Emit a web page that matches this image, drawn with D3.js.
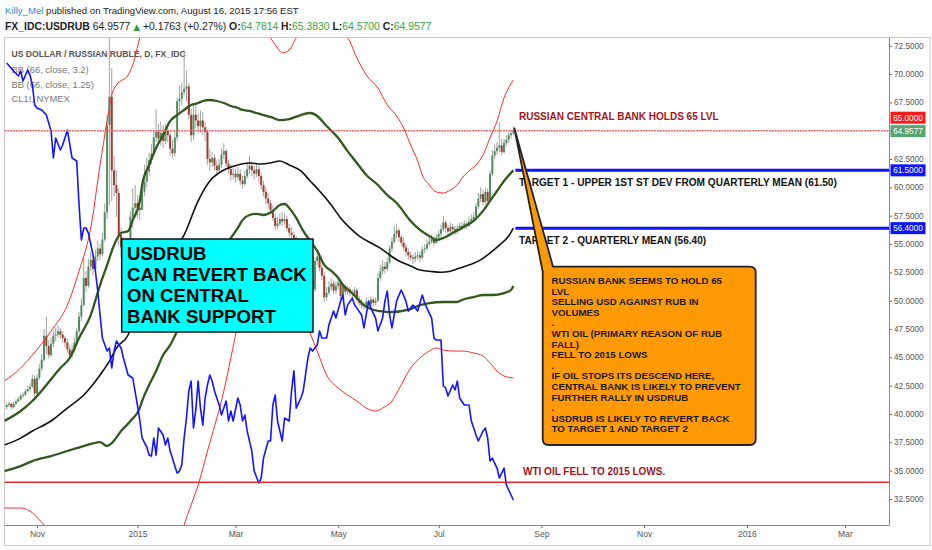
<!DOCTYPE html>
<html><head><meta charset="utf-8">
<script src="https://cdn.jsdelivr.net/npm/d3@7"></script>
<style>
html,body{margin:0;padding:0;background:#fff;}
svg{display:block;}
</style></head><body>
<svg id="chart" width="932" height="550"></svg>
<script>
// ---------------- DATA ----------------
const seriesStart = "2014-10-13";   // bar 0 (weekdays only)
const firstBar = 2;                 // first candle: Oct 15 2014
const firstOpen = 40.6;
const closes = [
40.8,40.9,40.6,40.9,41.1,41.3,41.6,41.7,42.0,42.2,
42.4,43.1,41.8,43.2,44.0,44.8,46.9,46.0,45.2,46.2,
46.9,47.0,47.3,47.0,46.7,46.3,45.7,45.2,45.6,46.3,
47.3,48.6,49.6,52.0,51.3,53.0,53.6,52.8,53.9,54.6,
54.1,55.4,57.8,65.5,68.0,61.5,60.2,59.5,55.8,54.7,
54.3,54.5,54.1,57.4,58.2,58.6,58.2,58.0,59.6,60.5,
61.4,62.4,63.0,64.4,64.9,64.3,64.8,64.1,65.0,64.6,
63.4,63.0,64.4,67.6,67.8,68.4,68.7,68.9,66.4,64.6,
66.4,65.9,65.4,65.9,65.3,64.9,62.5,62.2,62.6,61.9,
61.5,62.0,62.9,63.2,62.1,61.6,61.1,61.2,60.9,61.2,
60.6,60.3,61.0,61.6,61.9,61.5,61.2,61.6,61.0,60.2,
59.6,59.0,58.6,58.0,57.3,56.6,56.8,57.2,57.0,57.2,
56.4,56.0,55.8,55.5,54.8,53.8,53.2,52.5,52.3,52.8,
51.8,51.0,53.5,53.9,52.9,52.2,50.3,50.7,51.2,51.5,
50.9,51.3,51.6,50.4,51.3,50.8,51.0,50.7,50.6,50.9,
50.1,49.8,49.6,49.5,49.9,49.7,50.1,49.8,50.0,52.0,
52.6,53.0,52.8,53.4,54.6,55.2,55.9,56.2,55.6,55.1,
54.7,54.3,54.0,53.8,53.7,53.9,54.0,53.8,54.5,54.6,
55.0,55.2,55.4,55.1,55.6,55.9,56.3,56.9,56.4,56.1,
56.5,56.3,56.1,56.4,56.6,56.5,56.8,56.6,57.0,57.2,
57.4,58.3,59.0,59.4,58.7,59.6,58.8,61.2,62.8,63.2,
63.5,63.7,63.1,63.9,64.2,64.6,64.78,64.9577];
const highs = [
41.0,41.1,41.0,41.1,41.3,41.5,41.8,41.9,42.2,42.5,
42.7,43.5,43.4,43.5,44.4,45.3,47.5,48.6,46.5,46.8,
47.4,47.6,47.8,47.6,47.3,46.9,46.6,46.0,46.1,46.7,
47.6,49.0,50.2,53.8,52.6,53.7,54.3,54.0,54.5,55.3,
55.0,56.0,58.6,66.4,79.0,70.5,62.8,61.5,59.9,56.4,
55.6,55.4,54.9,57.9,59.9,60.2,59.3,59.0,60.4,62.0,
62.6,63.0,63.8,65.0,66.9,65.6,65.8,65.5,65.6,65.7,
65.0,64.2,65.0,67.9,69.0,69.2,72.1,70.3,69.2,66.9,
67.3,67.4,66.5,66.8,66.6,65.8,65.1,63.4,63.1,62.9,
62.4,62.5,63.4,63.9,63.4,62.4,62.0,61.7,61.6,61.8,
61.6,61.0,61.5,62.2,62.8,62.3,61.9,62.1,61.9,61.3,
60.6,60.0,59.5,58.9,58.4,57.7,57.4,57.7,57.8,57.7,
57.5,56.8,56.5,56.1,55.7,55.0,54.2,53.6,53.0,53.2,
53.1,52.1,53.8,54.4,54.0,53.2,52.5,51.2,51.7,52.0,
51.8,51.7,52.1,51.9,51.6,51.5,51.3,51.2,51.0,51.2,
51.1,50.4,50.1,49.9,50.3,50.1,50.4,50.3,50.3,52.4,
53.2,53.6,53.4,53.8,54.9,55.6,56.6,56.8,56.4,55.8,
55.5,55.0,54.6,54.3,54.1,54.3,54.4,54.3,54.8,55.0,
55.4,55.6,55.8,55.7,55.9,56.2,56.7,57.5,57.1,56.7,
56.9,56.8,56.6,56.7,56.9,56.9,57.1,57.0,57.4,57.6,
57.8,58.6,59.5,60.0,59.8,60.0,59.9,61.5,63.3,63.8,
64.0,65.7,64.3,64.3,64.6,64.9,65.1,65.383];
const lows = [
40.4,40.6,40.4,40.5,40.8,41.0,41.2,41.4,41.6,41.9,
42.0,42.3,41.4,41.7,43.0,43.8,44.6,45.3,44.9,45.0,
45.9,46.4,46.7,46.6,46.3,45.9,45.4,44.8,44.9,45.4,
46.0,47.1,48.2,49.5,50.8,51.1,52.6,52.2,52.6,53.5,
53.6,53.9,55.2,57.2,58.4,58.8,59.2,57.4,54.9,53.8,
53.4,53.6,53.0,53.9,56.4,57.5,57.3,57.1,58.6,59.2,
60.0,61.0,62.0,62.7,64.0,63.8,63.7,63.5,63.8,64.0,
62.8,62.6,62.7,64.1,66.5,67.2,68.1,67.6,66.0,64.0,
64.2,65.2,64.8,64.8,64.6,64.1,62.0,61.5,61.8,61.5,
61.0,61.2,61.7,62.5,61.8,61.2,60.6,60.7,60.4,60.6,
60.2,59.9,60.1,60.8,61.2,61.0,60.7,60.9,60.4,59.8,
59.2,58.5,58.1,57.6,57.0,56.2,56.3,56.6,56.6,56.7,
56.1,55.6,55.3,54.9,54.3,53.5,52.7,52.0,51.9,52.0,
51.4,50.6,50.8,53.1,52.6,51.8,49.9,50.0,50.5,50.9,
50.6,50.6,51.0,50.1,50.2,50.5,50.5,50.4,50.2,50.4,
49.9,49.5,49.3,49.2,49.3,49.4,49.5,49.5,49.6,49.9,
51.7,52.3,52.4,52.6,53.2,54.3,55.0,55.5,55.2,54.8,
54.4,53.9,53.6,53.5,53.2,53.4,53.6,53.4,53.6,54.2,
54.4,54.8,55.0,54.8,55.0,55.3,55.6,56.1,56.0,55.8,
55.9,56.0,55.8,55.9,56.2,56.2,56.3,56.3,56.5,56.8,
57.0,57.2,58.1,58.7,58.4,58.5,58.5,58.7,61.0,62.5,
62.9,63.1,62.8,63.0,63.6,63.9,64.3,64.57];

// Bollinger bands: [bar, value]
const bbBasis = [[1,37.26],[8,37.87],[13,38.49],[21,39.38],[28,40.52],[35,41.67],[42,43.44],[46,44.67],[49,45.82],[54,46.97],[59,50.06],[68,53.15],[78,55.8],[84,58.8],[89,60.56],[95,61.53],[101,61.98],[106,62.15],[111,62.06],[115,62.15],[119,62.32],[123,61.98],[128,61.45],[132,60.56],[136,59.68],[141,58.45],[145,57.3],[149,56.42],[153,55.7],[158,55.09],[162,54.64],[166,54.03],[170,53.5],[175,53.06],[179,52.7],[183,52.6],[188,52.5],[192,52.6],[196,52.88],[200,53.15],[205,53.6],[209,54.2],[213,54.9],[217,55.7],[219,56.4]];
const bbUpper125 = [[1,39.38],[8,40.26],[13,41.14],[19,42.55],[25,44.05],[29,44.94],[33,46.7],[38,48.73],[42,51.38],[45,53.14],[48,54.91],[51,55.96],[54,56.14],[56,57.11],[59,58.79],[60,60.2],[63,61.97],[66,63.47],[69,64.62],[72,65.85],[75,66.38],[78,66.83],[81,67.27],[84,67.44],[86,67.62],[89,67.71],[92,67.62],[95,67.44],[98,67.18],[101,67.0],[103,66.83],[106,66.74],[109,66.56],[112,66.38],[115,66.21],[119,65.94],[123,66.03],[128,66.38],[132,66.56],[135,66.3],[139,65.41],[144,64.35],[148,63.2],[152,62.15],[156,61.09],[161,60.21],[165,59.32],[169,58.62],[175,57.03],[179,56.24],[183,55.7],[186,55.35],[189,55.53],[193,55.97],[197,56.42],[202,57.03],[206,57.92],[209,58.8],[212,59.68],[215,60.56],[219,61.5]];
const bbLower125 = [[1,34.96],[8,35.4],[13,35.84],[21,36.28],[28,36.73],[35,37.17],[42,37.52],[45,37.17],[47,37.43],[51,38.49],[55,39.38],[59,40.52],[60,41.14],[63,42.55],[66,43.79],[69,45.2],[72,46.08],[75,47.32],[80,49.62],[86,51.65],[92,53.77],[98,55.53],[101,56.42],[103,57.11],[106,57.56],[109,57.65],[112,57.56],[116,57.91],[119,58.44],[121,58.53],[123,58.18],[126,57.3],[129,56.15],[132,55.27],[135,54.39],[138,53.15],[141,52.62],[144,52.0],[146,51.38],[149,50.85],[152,50.23],[155,49.61],[158,49.26],[162,49.08],[166,48.99],[175,49.26],[179,49.61],[183,49.79],[189,49.88],[195,49.88],[197,50.06],[202,50.32],[206,50.5],[210,50.5],[215,50.67],[218,50.94],[219,51.3]];
const bbUpper32 = [[1,42.9],[8,44.06],[13,45.2],[21,47.32],[28,49.61],[33,52.61],[38,56.42],[42,61.97],[45,65.85],[47,68.15],[49,69.03],[54,69.91],[56,70.8],[59,73.18],[64,76.0],[72,79.0],[81,80.0],[93,78.0],[106,75.0],[115,73.18],[118,72.3],[120,71.86],[123,72.12],[126,73.18],[136,74.5],[148,73.18],[152,71.41],[156,69.91],[161,68.77],[165,67.27],[169,66.3],[172,65.24],[175,63.74],[178,62.32],[180,61.09],[183,60.21],[186,59.59],[189,59.5],[192,59.76],[195,60.21],[197,60.82],[200,61.44],[203,61.97],[206,62.85],[209,64.35],[212,65.85],[215,67.88],[219,69.47]];
const bbLower32 = [[1,31.7],[8,31.7],[11,31.53],[13,31.27],[16,30.65],[18,30.2],[25,28.0],[40,24.0],[55,21.0],[65,21.5],[72,25.0],[78,30.2],[81,31.97],[84,33.73],[88,36.73],[92,39.64],[95,42.03],[98,44.94],[101,47.85],[106,50.41],[113,52.0],[121,52.53],[127,50.5],[132,47.14],[135,45.55],[139,43.44],[144,42.29],[148,41.67],[152,41.14],[156,40.52],[160,40.26],[163,40.52],[167,41.14],[170,42.2],[175,44.05],[179,44.94],[183,45.55],[186,45.82],[189,45.64],[193,45.55],[197,45.55],[202,45.38],[206,45.11],[209,44.5],[212,43.79],[215,43.35],[219,43.18]];

// WTI crude (CL1!) overlay, own scale: [bar, price]
const oil = [[2,81.87],[5,81.15],[7,80.7],[8,81.15],[9,80.25],[11,81.24],[12,80.79],[13,79.89],[14,78.09],[15,77.82],[17,77.64],[19,77.18],[21,75.74],[22,73.31],[23,75.11],[25,74.03],[26,74.48],[28,75.83],[30,73.31],[32,73.04],[33,69.08],[34,65.92],[35,67.0],[36,67.0],[37,66.55],[39,64.57],[40,63.13],[41,61.33],[42,59.17],[43,57.09],[45,55.92],[46,56.19],[47,54.39],[48,55.92],[49,56.82],[51,56.19],[52,55.29],[54,53.76],[56,53.49],[58,51.06],[59,49.71],[60,48.09],[62,47.27],[63,46.55],[64,46.46],[65,48.09],[66,46.55],[67,48.99],[69,48.36],[70,47.46],[71,48.09],[72,46.91],[73,46.28],[74,45.56],[75,44.93],[76,45.11],[77,45.65],[78,48.09],[79,49.89],[80,52.32],[81,53.22],[82,48.99],[83,50.61],[84,53.22],[85,50.78],[86,49.25],[87,51.69],[88,52.86],[89,53.76],[90,53.22],[91,52.32],[93,51.06],[94,50.16],[96,51.42],[97,49.62],[98,50.52],[99,49.62],[101,51.69],[102,51.06],[103,49.62],[104,50.16],[105,48.72],[107,46.91],[108,45.11],[110,44.03],[111,44.48],[112,46.28],[114,47.82],[115,47.82],[116,51.06],[117,51.96],[118,49.62],[120,47.82],[121,49.89],[123,49.62],[124,52.32],[125,54.13],[126,50.78],[128,51.69],[129,52.32],[131,55.29],[132,56.19],[133,55.92],[135,56.46],[136,57.72],[137,57.09],[139,57.09],[140,58.26],[142,59.52],[143,58.89],[145,60.42],[146,60.96],[147,59.17],[148,60.06],[150,60.69],[151,60.06],[152,59.79],[154,59.17],[155,58.0],[157,60.42],[158,59.79],[160,58.89],[161,57.72],[163,58.89],[164,60.42],[165,61.33],[166,59.17],[167,58.0],[169,60.42],[170,60.96],[171,61.42],[173,60.42],[174,59.52],[176,60.06],[177,59.79],[178,59.52],[180,60.96],[181,60.25],[182,59.79],[184,58.89],[185,57.09],[186,56.91],[188,56.91],[189,52.77],[190,52.59],[191,51.87],[193,52.86],[194,52.41],[195,53.22],[196,51.69],[198,51.06],[200,51.06],[201,49.62],[203,48.36],[204,47.82],[206,48.72],[207,48.99],[208,48.09],[209,46.01],[210,46.28],[212,45.38],[213,44.48],[215,45.38],[216,43.85],[217,43.4],[218,42.95],[219,42.5]];

const yTicks = [32.5,35,37.5,40,42.5,45,47.5,50,52.5,55,57.5,60,62.5,65,67.5,70,72.5];
const level65 = 65.0;
const target1 = 61.5;
const target2 = 56.4;
const oilLow2015 = 44.1;
const lastPrice = 64.9577;
const legendLines = ["US DOLLAR / RUSSIAN RUBLE, D, FX_IDC","BB (66, close, 3.2)","BB (66, close, 1.25)","CL1!, NYMEX"];
const boxLines = ["USDRUB","CAN REVERT BACK","ON CENTRAL","BANK SUPPORT"];
const noteLines = ["RUSSIAN BANK SEEMS TO HOLD 65","LVL","SELLING USD AGAINST RUB IN","VOLUMES",".","WTI OIL (PRIMARY REASON OF RUB","FALL)","FELL TO 2015 LOWS",".","IF OIL STOPS ITS DESCEND HERE,","CENTRAL BANK IS LIKELY TO PREVENT","FURTHER RALLY IN USDRUB",".","USDRUB IS LIKELY TO REVERT BACK","TO TARGET 1 AND TARGET 2"];

// ---------------- BUILD ----------------
const svg = d3.select("#chart");
const L = 4.5, R = 889, T = 38, B = 525;
const x = d3.scaleLinear().domain([0, 380]).range([2, 889.3]);
const y = d3.scaleLinear().domain([30.2, 73.18]).range([B, T]);
const yOil = d3.scaleLinear().domain([40.25, 84.12]).range([B, T]);

// trading calendar (weekdays) for axis labels
const parse = d3.timeParse("%Y-%m-%d");
const days = d3.timeDay.range(parse(seriesStart), parse("2016-05-01")).filter(d => d.getDay() !== 0 && d.getDay() !== 6);
const monthTicks = [];
days.forEach((d, i) => {
  if (i > 0 && d.getMonth() !== days[i-1].getMonth() && d.getMonth() % 2 === 0) monthTicks.push({i, d});
});

const candles = closes.map((c, k) => ({
  i: firstBar + k,
  o: k === 0 ? firstOpen : closes[k-1],
  c, h: highs[k], l: lows[k]
}));

// frame
svg.append("rect").attr("x",0).attr("y",0).attr("width",932).attr("height",550).attr("fill","#fff");
svg.append("rect").attr("x",L).attr("y",T-0.5).attr("width",930-L).attr("height",546-T).attr("fill","none").attr("stroke","#c8c8c8");

const defs = svg.append("defs");
defs.append("clipPath").attr("id","plot").append("rect").attr("x",L).attr("y",T).attr("width",R-L).attr("height",B-T);

// legend (under series)
const lg = svg.append("g").attr("font-family","Liberation Sans, Arial, sans-serif");
legendLines.forEach((t, k) => {
  lg.append("text").attr("x",11.5).attr("y",[57,72.5,87.5,102][k])
    .attr("font-size",k===0?8.6:9.4).attr("font-weight",k===0?"bold":"normal")
    .attr("fill",k===0?"#555":"#777").text(t);
});

const plot = svg.append("g").attr("clip-path","url(#plot)");

// candles
const cg = plot.append("g");
cg.selectAll("line.w").data(candles).join("line")
  .attr("x1", d => x(d.i)).attr("x2", d => x(d.i))
  .attr("y1", d => y(d.h)).attr("y2", d => y(d.l))
  .attr("stroke","#8c8c8c").attr("stroke-width",0.8);
cg.selectAll("rect").data(candles).join("rect")
  .attr("x", d => x(d.i) - 1).attr("width",2)
  .attr("y", d => y(Math.max(d.o,d.c)))
  .attr("height", d => Math.max(1, Math.abs(y(d.o) - y(d.c))))
  .attr("fill", d => d.c >= d.o ? "#4f8f5f" : "#a23b2b");

// bands
const band = d3.line().x(d => x(d[0])).y(d => y(d[1])).curve(d3.curveMonotoneX);
plot.append("path").attr("d", band(bbUpper32)).attr("fill","none").attr("stroke","#ff2a2a").attr("stroke-width",1);
plot.append("path").attr("d", band(bbLower32)).attr("fill","none").attr("stroke","#ff2a2a").attr("stroke-width",1);
plot.append("path").attr("d", band(bbUpper125)).attr("fill","none").attr("stroke","#2f5a1c").attr("stroke-width",2.3);
plot.append("path").attr("d", band(bbLower125)).attr("fill","none").attr("stroke","#2f5a1c").attr("stroke-width",2.3);
plot.append("path").attr("d", band(bbBasis)).attr("fill","none").attr("stroke","#111").attr("stroke-width",1.6);

// oil
const oilLine = d3.line().x(d => x(d[0])).y(d => yOil(d[1]));
plot.append("path").attr("d", oilLine(oil)).attr("fill","none").attr("stroke","#1414ff").attr("stroke-width",1.6).attr("stroke-linejoin","round");

// horizontal levels
const lastBar = firstBar + closes.length - 1;
plot.append("line").attr("x1",L).attr("x2",R).attr("y1",y(level65)).attr("y2",y(level65))
  .attr("stroke","#e06a6a").attr("stroke-width",1.6).attr("stroke-dasharray","2,0.8");
plot.append("line").attr("x1",L).attr("x2",R).attr("y1",yOil(oilLow2015)).attr("y2",yOil(oilLow2015))
  .attr("stroke","#e8282b").attr("stroke-width",1.6);
[target1, target2].forEach(v => {
  plot.append("line").attr("x1",x(lastBar)+2).attr("x2",R).attr("y1",y(v)).attr("y2",y(v))
    .attr("stroke","#0a14ff").attr("stroke-width",3);
});

// annotation texts
const an = svg.append("g").attr("font-family","Liberation Sans, Arial, sans-serif").attr("font-weight","bold");
an.append("text").attr("x",519).attr("y",y(level65)-11).attr("font-size",10).attr("fill","#a3141c").text("RUSSIAN CENTRAL BANK HOLDS 65 LVL");
an.append("text").attr("x",519).attr("y",y(target1)+15.5).attr("font-size",10.1).attr("fill","#111").text("TARGET 1 - UPPER 1ST ST DEV FROM QUARTERLY MEAN (61.50)");
an.append("text").attr("x",519).attr("y",y(target2)+15.5).attr("font-size",10.1).attr("fill","#111").text("TARGET 2 - QUARTERLY MEAN (56.40)");
an.append("text").attr("x",523).attr("y",yOil(oilLow2015)-7.5).attr("font-size",10).attr("fill","#a3141c").text("WTI OIL FELL TO 2015 LOWS.");

// cyan box
svg.append("rect").attr("x",121.7).attr("y",239).attr("width",191.3).attr("height",93)
  .attr("fill","#00ffff").attr("stroke","#111").attr("stroke-width",1.5);
const bx = svg.append("g").attr("font-family","Liberation Sans, Arial, sans-serif").attr("font-weight","bold").attr("font-size",18.6).attr("fill","#000");
boxLines.forEach((t,k) => bx.append("text").attr("x",127).attr("y",260 + k*21).text(t));

// orange callout with pointer to last candle
const tipX = x(lastBar) + 1, tipY = y(highs[highs.length-1]) + 2;
const bl = 542.7, bt = 266.7, br = 755.7, bb = 445, r = 6;
const callout = d3.path();
callout.moveTo(tipX, tipY);
callout.lineTo(553, bt);
callout.lineTo(br - r, bt);
callout.quadraticCurveTo(br, bt, br, bt + r);
callout.lineTo(br, bb - r);
callout.quadraticCurveTo(br, bb, br - r, bb);
callout.lineTo(bl + r, bb);
callout.quadraticCurveTo(bl, bb, bl, bb - r);
callout.lineTo(bl, bt + 5);
callout.closePath();
svg.append("path").attr("d", callout.toString()).attr("fill","#ff9a05").attr("stroke","#222").attr("stroke-width",1.8).attr("stroke-linejoin","round");
const nt = svg.append("g").attr("font-family","Liberation Sans, Arial, sans-serif").attr("font-weight","bold").attr("font-size",9.7).attr("fill","#1a1a1a");
noteLines.forEach((t,k) => nt.append("text").attr("x",551.5).attr("y",284 + k*10.6).text(t));

// axes
const ya = svg.append("g").attr("transform",`translate(${R},0)`)
  .call(d3.axisRight(y).tickValues(yTicks).tickFormat(d3.format(".4f")).tickSize(3).tickPadding(2));
ya.select(".domain").remove();
ya.selectAll("line").attr("stroke","#666");
ya.selectAll("text").attr("fill","#555").attr("font-size",8.2).attr("font-family","Liberation Sans, Arial, sans-serif");

const xa = svg.append("g").attr("transform",`translate(0,${B})`)
  .call(d3.axisBottom(x).tickValues(monthTicks.map(m => m.i))
    .tickFormat(i => { const m = monthTicks.find(t => t.i === i).d; return m.getMonth() === 0 ? d3.timeFormat("%Y")(m) : d3.timeFormat("%b")(m); })
    .tickSize(3).tickPadding(3));
xa.select(".domain").remove();
xa.selectAll("line").attr("stroke","#666");
xa.selectAll("text").attr("fill","#555").attr("font-size",8.5).attr("font-family","Liberation Sans, Arial, sans-serif");

// plot borders
svg.append("line").attr("x1",R+0.5).attr("x2",R+0.5).attr("y1",T).attr("y2",B+0.5).attr("stroke","#888");
svg.append("line").attr("x1",L).attr("x2",R+0.5).attr("y1",B+0.5).attr("y2",B+0.5).attr("stroke","#888");

// right axis price labels
function priceTag(cy, txt, fill) {
  svg.append("rect").attr("x",890.5).attr("y",cy-6).attr("width",35).attr("height",12).attr("fill",fill);
  svg.append("text").attr("x",908).attr("y",cy+3).attr("text-anchor","middle").attr("fill","#fff")
    .attr("font-size",8.2).attr("font-family","Liberation Sans, Arial, sans-serif").text(txt);
}
priceTag(y(level65) - 13, d3.format(".4f")(level65), "#ff1a1a");
priceTag(y(lastPrice), d3.format(".4f")(lastPrice), "#5aa373");
priceTag(y(target1), d3.format(".4f")(target1), "#0a14ff");
priceTag(y(target2), d3.format(".4f")(target2), "#0a14ff");

// header
const hd = svg.append("g").attr("font-family","Liberation Sans, Arial, sans-serif");
const h1 = hd.append("text").attr("x",5).attr("y",13.5).attr("fill","#222").attr("font-size",9.6);
h1.append("tspan").attr("fill","#2a8fd6").text("Killy_Mel");
h1.append("tspan").text(" published on TradingView.com, August 16, 2015 17:56 EST");
const h2 = hd.append("text").attr("x",5).attr("y",29.5).attr("fill","#222").attr("font-size",10.4);
h2.append("tspan").attr("font-weight","bold").text("FX_IDC:USDRUB");
h2.append("tspan").text("  64.9577 ");
h2.append("tspan").attr("fill","#2fa33c").attr("font-family","DejaVu Sans").attr("font-size",9).text("▲");
h2.append("tspan").text(" +0.1763 (+0.27%) ");
[["O:","64.7814"],["H:","65.3830"],["L:","64.5700"],["C:","64.9577"]].forEach(([k,v],n) => {
  h2.append("tspan").attr("font-weight","bold").text((n? " ":"") + k);
  h2.append("tspan").attr("fill","#34a846").text(v);
});
</script>
</body></html>
